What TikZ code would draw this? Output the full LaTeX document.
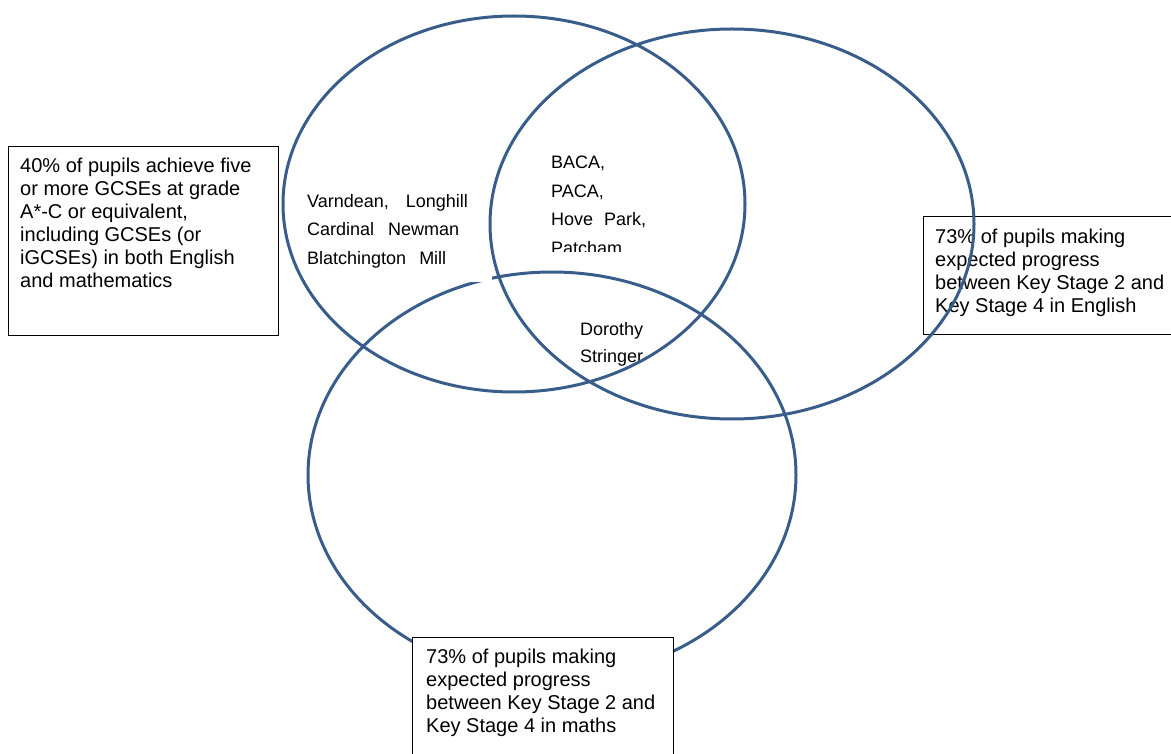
\documentclass[tikz,border=0pt]{standalone}
\usepackage{fontspec}
\setmainfont{Liberation Sans}
\definecolor{vennblue}{RGB}{56,93,138}
\tikzset{
  ring/.style={draw=vennblue, line width=3pt},
  critbox/.style={draw, line width=0.9pt, fill=white, inner sep=0pt, anchor=north west},
  crittext/.style={inner sep=0pt, anchor=north west, align=left, font=\fontsize{20}{23}\selectfont},
  schooltext/.style={inner sep=0pt, anchor=north west, align=left, font=\fontsize{18}{28.5}\selectfont}
}
\begin{document}
\begin{tikzpicture}[x=1pt,y=-1pt]
  \useasboundingbox (0,0) rectangle (1171,754);
  % maths ring first, the boxes sit on top of it
  \draw [ring] (552,475) ellipse [x radius=244pt, y radius=203pt];
  \fill [white] (306,180) rectangle (492,282);
  \node [critbox, minimum width=261pt, minimum height=138pt] (mathsbox) at (412,637) {};
  \node [crittext] at ([shift={(14,11.5)}]mathsbox.north west)
    {73\% of pupils making\\expected progress\\between Key Stage 2 and\\Key Stage 4 in maths};
  \node [critbox, fill=none, minimum width=267pt, minimum height=118pt] (englishbox) at (923,216) {};
  \node [crittext] at ([shift={(12,12.5)}]englishbox.north west)
    {73\% of pupils making\\expected progress\\between Key Stage 2 and\\Key Stage 4 in English};
  \node [critbox, minimum width=270pt, minimum height=189pt] (gcsebox) at (8,146) {};
  \node [crittext] at ([shift={(12,11.5)}]gcsebox.north west)
    {40\% of pupils achieve five\\or more GCSEs at grade\\A*-C or equivalent,\\including GCSEs (or\\iGCSEs) in both English\\and mathematics};
  % schools in each region
  \node [schooltext] (gcseonly) at (307,194)
    {Varndean,\hspace{12pt} Longhill\\Cardinal\hspace{9pt} Newman\\Blatchington\hspace{8pt} Mill};
  \begin{scope}
    \clip (540,140) rectangle (700,252);
    \node [schooltext] (gcseenglish) at (551,156) {BACA,\\PACA,\\Hove\hspace{6pt} Park,\\Patcham};
  \end{scope}
  \node [schooltext, font=\fontsize{18}{27}\selectfont] (allthree) at (580,322) {Dorothy\\Stringer};
  % gcse and english rings
  \draw [ring] (514,204) ellipse [x radius=231pt, y radius=188pt];
  \draw [ring] (732,224) ellipse [x radius=242pt, y radius=195pt];
\end{tikzpicture}
\end{document}
